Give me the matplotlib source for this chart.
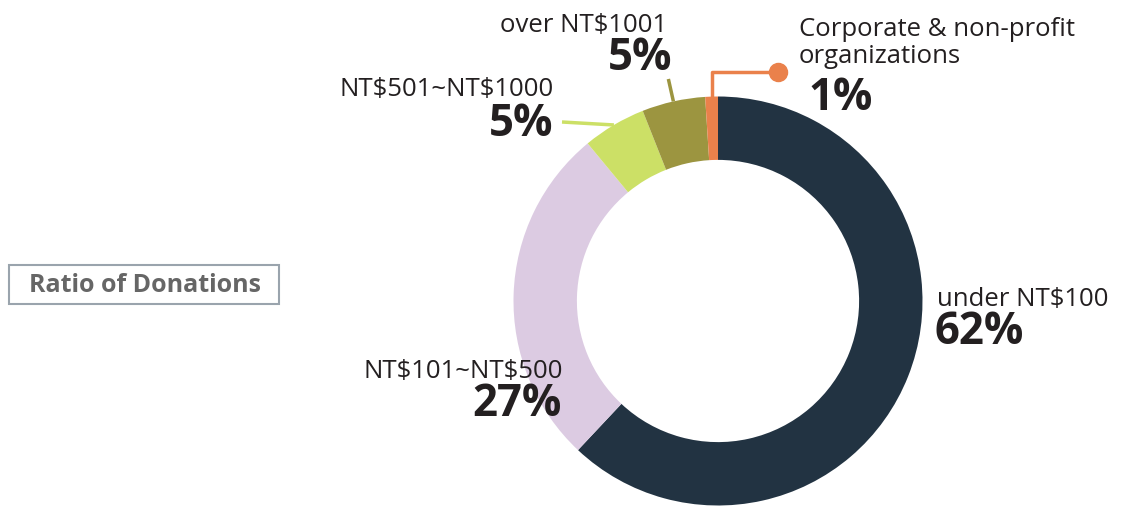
import numpy as np
import matplotlib.pyplot as plt
from matplotlib.patches import Rectangle

# data
labels = ["under NT$100", "NT$101~NT$500", "NT$501~NT$1000", "over NT$1001",
          "Corporate & non-profit\norganizations"]
shares = [62, 27, 5, 5, 1]
colors = ["#223342", "#dccbe2", "#cce066", "#9c9540", "#ea814b"]
title = "Ratio of Donations"

plt.rcParams['font.family'] = ['Open Sans', 'DejaVu Sans']
txt_c = "#231f20"

fig = plt.figure(figsize=(11.24, 5.08), dpi=100)
ax = fig.add_axes([0, 0, 1, 1])

cx, cy, R = 718, 207, 204.5
wedges, _ = ax.pie(shares, colors=colors, startangle=90, counterclock=False,
                   center=(cx, cy), radius=R, frame=True,
                   wedgeprops=dict(width=R * 0.31, linewidth=0))
ax.set_xlim(0, 1124)
ax.set_ylim(0, 508)
ax.axis('off')


def edge_pt(w, r=R):
    a = np.deg2rad((w.theta1 + w.theta2) / 2)
    return cx + r * np.cos(a), cy + r * np.sin(a)


def lab(x, y, s, ha, **kw):
    ax.text(x, 508 - y, s, fontsize=18.5, color=txt_c, va='center', ha=ha,
            parse_math=False, **kw)


def pct(x, y, s, ha):
    ax.text(x, 508 - y, s, fontsize=31.5, fontweight='bold', color=txt_c,
            va='center', ha=ha, parse_math=False)


# under NT$100
lab(937, 299, labels[0], 'left')
pct(935, 333, "62%", 'left')

# NT$101~NT$500
lab(563, 371, labels[1], 'right')
pct(562, 405, "27%", 'right')

# NT$501~NT$1000
lab(554, 89, labels[2], 'right')
pct(553, 124, "5%", 'right')
x0, y0 = edge_pt(wedges[2])
ax.plot([562, x0], [508 - 122, y0], color=colors[2], lw=2.5, solid_capstyle='butt')

# over NT$1001
lab(584, 25, labels[3], 'center')
pct(640, 58, "5%", 'center')
x0, y0 = edge_pt(wedges[3])
x1, y1 = edge_pt(wedges[3], R + 23)
ax.plot([x1, x0], [y1, y0], color=colors[3], lw=2.5, solid_capstyle='butt')

# corporate
lab(799, 43, labels[4], 'left', linespacing=1.12)
pct(808, 98, "1%", 'left')
x0, y0 = edge_pt(wedges[4])
ax.plot([x0, x0, 778], [y0, 508 - 72, 508 - 72], color=colors[4], lw=2.5)
ax.plot([778], [508 - 72], 'o', color=colors[4], ms=13)

# title box
ax.add_patch(Rectangle((9, 508 - 304), 270, 39, fill=False, edgecolor="#9aa4ad", lw=1.5))
ax.text(145, 508 - 285, title, fontsize=18, fontweight='bold', color="#666666",
        va='center', ha='center')

fig.savefig("out.png", dpi=100)
